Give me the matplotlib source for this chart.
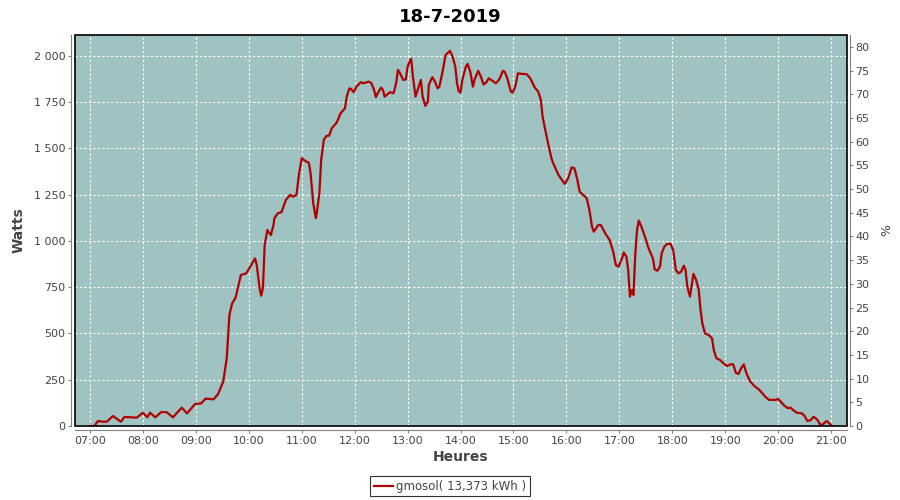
import matplotlib
matplotlib.use("Agg")
import matplotlib.pyplot as plt
from matplotlib.patches import Rectangle
from matplotlib.ticker import FuncFormatter, MultipleLocator

# ---------------------------------------------------------------- data
title = "18-7-2019"
series_label = "gmosol( 13,373 kWh )"

times = [
    "07:00", "07:05", "07:09", "07:15", "07:19", "07:26", "07:35", "07:39", "07:53", "08:00",
    "08:05", "08:08", "08:14", "08:21", "08:27", "08:34", "08:44", "08:50", "08:59", "09:06",
    "09:11", "09:20", "09:25", "09:31", "09:35", "09:38", "09:41", "09:45", "09:51", "09:57",
    "10:01", "10:07", "10:09", "10:12", "10:14", "10:16", "10:18", "10:21", "10:25", "10:28",
    "10:29", "10:33", "10:37", "10:42", "10:47", "10:50", "10:54", "10:57", "11:00", "11:05",
    "11:08", "11:10", "11:13", "11:16", "11:17", "11:20", "11:22", "11:25", "11:28", "11:31",
    "11:34", "11:39", "11:41", "11:44", "11:49", "11:51", "11:54", "11:56", "11:59", "12:02",
    "12:07", "12:10", "12:16", "12:19", "12:22", "12:24", "12:26", "12:30", "12:32", "12:34",
    "12:40", "12:44", "12:47", "12:49", "12:51", "12:55", "12:58", "13:00", "13:03", "13:04",
    "13:06", "13:09", "13:12", "13:15", "13:17", "13:20", "13:23", "13:24", "13:28", "13:31",
    "13:34", "13:36", "13:40", "13:43", "13:48", "13:51", "13:54", "13:56", "13:58", "14:00",
    "14:02", "14:06", "14:08", "14:11", "14:14", "14:16", "14:20", "14:23", "14:26", "14:29",
    "14:32", "14:36", "14:40", "14:44", "14:48", "14:50", "14:53", "14:57", "14:59", "15:02",
    "15:05", "15:09", "15:15", "15:19", "15:24", "15:28", "15:31", "15:33", "15:36", "15:40",
    "15:43", "15:45", "15:51", "15:58", "16:02", "16:06", "16:09", "16:12", "16:15", "16:19",
    "16:23", "16:26", "16:29", "16:31", "16:36", "16:39", "16:44", "16:49", "16:53", "16:56",
    "16:59", "17:03", "17:05", "17:08", "17:10", "17:12", "17:14", "17:16", "17:18", "17:20",
    "17:22", "17:25", "17:29", "17:33", "17:38", "17:40", "17:43", "17:46", "17:48", "17:51",
    "17:54", "17:58", "18:01", "18:04", "18:07", "18:10", "18:13", "18:15", "18:17", "18:20",
    "18:24", "18:27", "18:30", "18:32", "18:34", "18:37", "18:41", "18:45", "18:47", "18:50",
    "18:54", "18:58", "19:02", "19:06", "19:09", "19:12", "19:15", "19:18", "19:21", "19:24",
    "19:28", "19:33", "19:38", "19:42", "19:46", "19:50", "19:57", "20:00", "20:03", "20:07",
    "20:11", "20:14", "20:17", "20:21", "20:27", "20:30", "20:33", "20:37", "20:40", "20:44",
    "20:48", "20:51", "20:55", "21:00", "21:01",
]

watts = [
    0, 0, 27, 23, 23, 54, 23, 49, 45, 72,
    47, 72, 47, 76, 74, 47, 99, 68, 119, 122,
    148, 144, 171, 240, 366, 600, 661, 694, 816, 825,
    856, 906, 870, 753, 704, 746, 978, 1059, 1032, 1086,
    1123, 1150, 1155, 1222, 1249, 1239, 1249, 1366, 1447, 1429,
    1423, 1366, 1204, 1123, 1150, 1258, 1438, 1546, 1568, 1569,
    1609, 1636, 1654, 1690, 1717, 1780, 1825, 1820, 1804, 1834,
    1858, 1852, 1861, 1852, 1816, 1777, 1798, 1829, 1816, 1780,
    1804, 1798, 1852, 1924, 1910, 1870, 1874, 1942, 1978, 1984,
    1888, 1780, 1825, 1870, 1780, 1730, 1753, 1843, 1885, 1861,
    1825, 1834, 1924, 2005, 2027, 1996, 1942, 1852, 1807, 1802,
    1870, 1942, 1957, 1915, 1834, 1874, 1919, 1888, 1846, 1856,
    1879, 1866, 1852, 1874, 1919, 1915, 1879, 1807, 1802, 1834,
    1906, 1903, 1901, 1879, 1830, 1807, 1762, 1672, 1600, 1510,
    1447, 1420, 1357, 1308, 1339, 1398, 1393, 1339, 1266, 1249,
    1231, 1168, 1077, 1050, 1086, 1086, 1041, 1005, 942, 870,
    861, 906, 937, 915, 843, 699, 735, 708, 924, 1059,
    1110, 1077, 1023, 961, 906, 847, 839, 861, 934, 969,
    984, 984, 951, 843, 825, 834, 866, 843, 753, 699,
    822, 789, 735, 627, 555, 501, 492, 474, 411, 366,
    357, 339, 324, 333, 333, 288, 281, 312, 333, 285,
    243, 216, 198, 177, 155, 141, 141, 146, 131, 110,
    96, 99, 86, 72, 68, 54, 27, 32, 50, 36,
    5, 11, 27, 5, 0,
]

hour_ticks = list(range(7, 22))
watt_ticks = [0, 250, 500, 750, 1000, 1250, 1500, 1750, 2000]
pct_ticks = list(range(0, 85, 5))

# ---------------------------------------------------------------- helpers
def to_hours(t):
    h, m = t.split(":")
    return int(h) + int(m) / 60.0


def thousands(v, pos):
    return "{:,.0f}".format(v).replace(",", " ")


hours = [to_hours(t) for t in times]

plot_bg = "#9fc3c2"
line_col = "#b00000"
axis_grey = "#808080"
text_grey = "#444444"

plt.rcParams["font.family"] = "DejaVu Sans"

fig = plt.figure(figsize=(9, 5), dpi=100)
ax = fig.add_axes([75 / 900, 74 / 500, 772 / 900, 391 / 500])
ax.set_facecolor(plot_bg)

line, = ax.plot(hours, watts, color=line_col, linewidth=1.6, label=series_label)

ax.set_xlim(to_hours("06:43"), to_hours("21:18"))
ax.set_ylim(0, 2113)
ax.set_xticks(hour_ticks)
ax.set_xticklabels(["%02d:00" % h for h in hour_ticks])
ax.set_yticks(watt_ticks)
ax.yaxis.set_major_formatter(FuncFormatter(thousands))
ax.grid(True, color="white", linestyle=(0, (2, 2)), linewidth=0.8)
ax.set_axisbelow(True)

ax2 = ax.twinx()
ax2.set_ylim(0, 82.5)
ax2.yaxis.set_major_locator(MultipleLocator(5))
ax2.set_yticks(pct_ticks)

for a in (ax, ax2):
    for side in ("left", "right", "top", "bottom"):
        a.spines[side].set_visible(False)
    a.tick_params(colors=text_grey, labelsize=8, length=2, width=0.8,
                  color=axis_grey, pad=2)

ax.spines["left"].set_visible(True)
ax.spines["left"].set_position(("outward", 3))
ax.spines["left"].set_color(axis_grey)
ax.spines["bottom"].set_visible(True)
ax.spines["bottom"].set_position(("outward", 3))
ax.spines["bottom"].set_color(axis_grey)
ax2.spines["right"].set_visible(True)
ax2.spines["right"].set_position(("outward", 2))
ax2.spines["right"].set_color(axis_grey)

# black outline of the plot area
ax2.add_patch(Rectangle((0, 0), 1, 1, transform=ax2.transAxes, fill=False,
                        edgecolor="black", linewidth=1.2, clip_on=False))

ax.set_xlabel("Heures", fontsize=10, fontweight="bold", color=text_grey, labelpad=3)
ax.set_ylabel("Watts", fontsize=10, fontweight="bold", color=text_grey, labelpad=6)
ax2.set_ylabel("%", fontsize=9, color=text_grey, labelpad=8)

fig.suptitle(title, fontsize=13, fontweight="bold", y=0.985)

leg = fig.legend(handles=[line], loc="lower center", bbox_to_anchor=(0.5, 0.0),
                 frameon=True, fancybox=False, fontsize=8.5, handlelength=1.6,
                 handletextpad=0.3, borderpad=0.3, borderaxespad=0.3)
leg.get_frame().set_edgecolor("black")
leg.get_frame().set_linewidth(0.8)
for t in leg.get_texts():
    t.set_color(text_grey)

fig.savefig("out.png", dpi=100)
